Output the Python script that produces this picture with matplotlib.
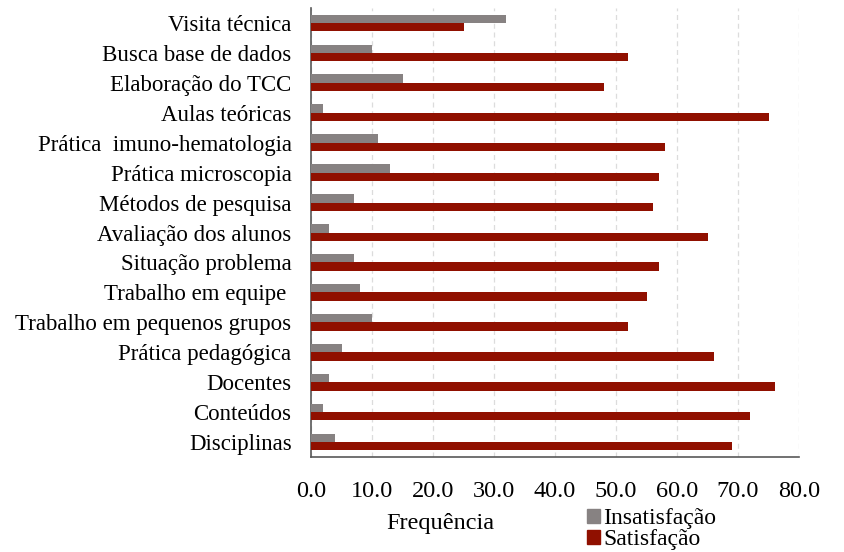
import numpy as np
import matplotlib.pyplot as plt
from matplotlib.patches import Patch

plt.rcParams['font.family'] = ['Liberation Serif', 'DejaVu Serif']

categorias = ['Visita técnica', 'Busca base de dados', 'Elaboração do TCC',
              'Aulas teóricas', 'Prática  imuno-hematologia', 'Prática microscopia',
              'Métodos de pesquisa', 'Avaliação dos alunos', 'Situação problema',
              'Trabalho em equipe ', 'Trabalho em pequenos grupos',
              'Prática pedagógica', 'Docentes', 'Conteúdos', 'Disciplinas']
insatisfacao = [32, 10, 15, 2, 11, 13, 7, 3, 7, 8, 10, 5, 3, 2, 4]
satisfacao = [25, 52, 48, 75, 58, 57, 56, 65, 57, 55, 52, 66, 76, 72, 69]

cor_cinza = '#878282'
cor_verm = '#901000'

fig = plt.figure(figsize=(8.44, 5.52), dpi=100)
ax = fig.add_axes([311/844, 1 - 457/552, 488/844, 449/552])

y = np.arange(len(categorias))
h = 0.28
ax.barh(y - h/2, insatisfacao, height=h, color=cor_cinza, zorder=3)
ax.barh(y + h/2, satisfacao, height=h, color=cor_verm, zorder=3)

ax.set_ylim(len(categorias) - 0.5, -0.5)
ax.set_xlim(0, 80)
ax.set_xticks(np.arange(0, 81, 10))
ax.set_xticklabels(['%.1f' % v for v in np.arange(0, 81, 10)], fontsize=17.5)
ax.set_yticks(y)
ax.set_yticklabels(categorias, fontsize=16.5)
ax.tick_params(axis='x', length=0, pad=17)
ax.tick_params(axis='y', length=0, pad=14)

ax.grid(axis='x', color='#dcdcdc', linestyle=(0, (4, 3)), linewidth=0.9, zorder=0)
for s in ['top', 'right']:
    ax.spines[s].set_visible(False)
for s in ['left', 'bottom']:
    ax.spines[s].set_color('#595959')
    ax.spines[s].set_linewidth(1.2)

fig.text(440/844, 1 - 524/552, 'Frequência', fontsize=17.5, ha='center', va='center')
handles = [Patch(color=cor_cinza, label='Insatisfação'),
           Patch(color=cor_verm, label='Satisfação')]
fig.legend(handles=handles, loc='center left', bbox_to_anchor=(587/844, 1 - 529/552),
           frameon=False, fontsize=17, handlelength=0.55, handleheight=0.55,
           handletextpad=0.15, labelspacing=0.0, borderpad=0, borderaxespad=0)

fig.savefig('out.png', dpi=100)
